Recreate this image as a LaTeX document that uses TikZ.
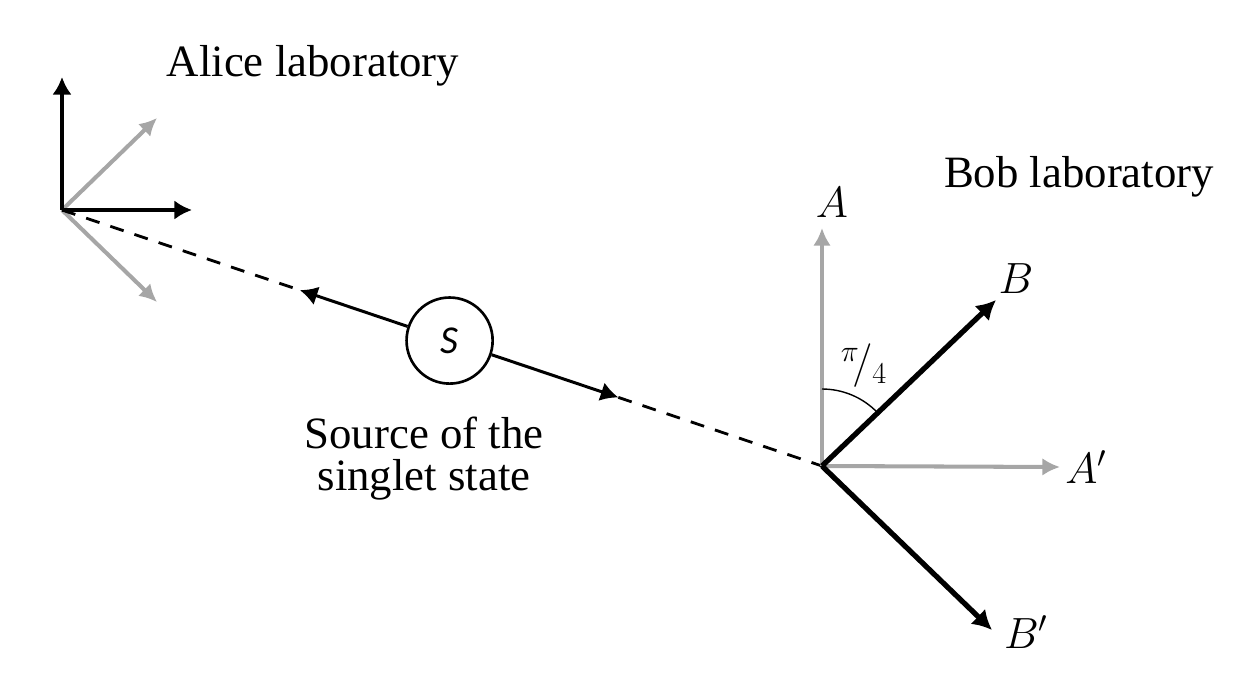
\documentclass[tikz,border=0pt]{standalone}
\usepackage{fontspec}
\setmainfont{Liberation Serif}
\newfontfamily\carlito{Carlito}
\usepackage{tikz}
\usetikzlibrary{calc, arrows.meta, positioning}

\definecolor{axisgray}{RGB}{166,166,166}

\begin{document}
\begin{tikzpicture}[x=0.02cm, y=-0.02cm,
    lab/.style={font=\fontsize{25.5}{23.5}\selectfont, align=center, inner sep=0pt},
    sym/.style={font=\fontsize{23}{26}\selectfont, inner sep=0pt},
    vec/.style={line width=2.3pt, -{Latex[length=10pt,width=11pt]}},
    bvec/.style={line width=3pt, -{Latex[length=11pt,width=12pt]}},
    gvec/.style={vec, draw=axisgray, -{Latex[length=10pt,width=10pt,color=axisgray]}},
    beam/.style={line width=1.6pt, dash pattern=on 8pt off 6.5pt},
    pair/.style={line width=1.7pt, -{Latex[length=10pt,width=11pt]}},
    source/.style={draw, circle, line width=1.5pt, minimum size=49pt, inner sep=0pt,
                   font=\fontsize{22.5}{26}\selectfont\carlito\itshape}]

    \useasboundingbox (0,0) rectangle (1254,690);

    % Hai phong thi nghiem
    \coordinate (alice) at (62,210);
    \coordinate (bob) at (822,466);

    % Truc cua Alice
    \coordinate (aup) at (62,77);
    \coordinate (aright) at (192,210);
    \coordinate (agu) at (157,118);
    \coordinate (agd) at (157,302);
    \draw[gvec] (alice) -- (agu);
    \draw[gvec] (alice) -- (agd);
    \draw[vec] (alice) -- (aup);
    \draw[vec] (alice) -- (aright);
    \node[lab, anchor=base] (alicelab) at (313,76) {Alice laboratory};

    % Nguon va hai hat
    \node[source] (src) at ($(alice)!0.51!(bob)$) {S};
    \coordinate (lt) at ($(alice)!0.313!(bob)$);
    \coordinate (rt) at ($(alice)!0.732!(bob)$);
    \draw[beam] (alice) -- (lt);
    \draw[beam] (rt) -- (bob);
    \draw[pair] (src) -- (lt);
    \draw[pair] (src) -- (rt);
    \node[lab, anchor=base] (srclab) at (424,490) {Source of the\\singlet state};

    % Truc cua Bob
    \coordinate (bA) at (822,228);
    \coordinate (bAp) at (1060,467);
    \coordinate (bB) at (996,300);
    \coordinate (bBp) at (992,630);
    \draw[gvec] (bob) -- (bA);
    \draw[gvec] (bob) -- (bAp);
    \draw[bvec] (bob) -- (bB);
    \draw[bvec] (bob) -- (bBp);
    \draw[line width=0.8pt] ($(bob)+(0,-77)$) arc[start angle=-90, end angle=-44, radius=77];

    \node[sym, anchor=base] (labA) at (832,217) {$A$};
    \node[sym, anchor=base] (labB) at (1016,293) {$B$};
    \node[sym, anchor=base] (labAp) at (1086,483) {$A'$};
    \node[sym, anchor=base] (labBp) at (1026,648) {$B'$};
    \node[sym, font=\fontsize{26}{28}\selectfont] (angle) at (864,366) {${}^{\pi}\!/_{4}$};
    \node[lab, anchor=base] (boblab) at (1079,187) {Bob laboratory};

\end{tikzpicture}
\end{document}
